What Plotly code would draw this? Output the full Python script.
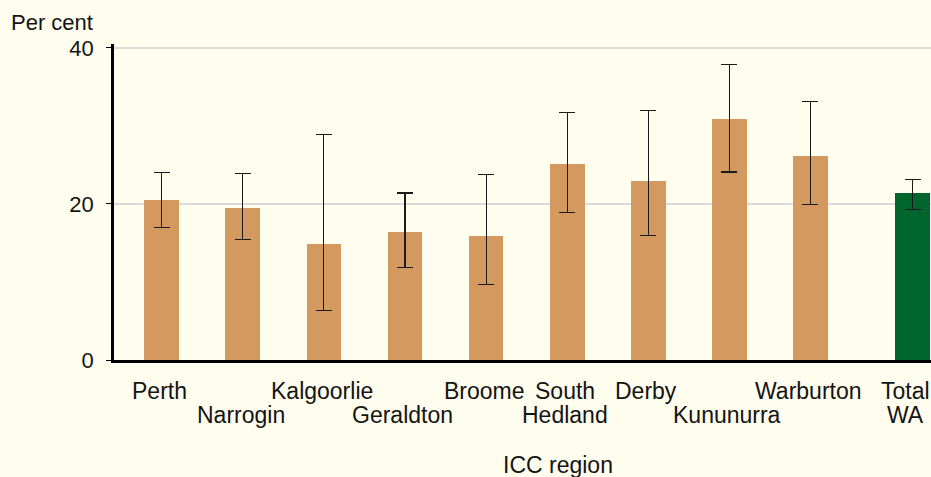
import plotly.graph_objects as go

regions = ["Perth", "Narrogin", "Kalgoorlie", "Geraldton", "Broome",
           "South Hedland", "Derby", "Kununurra", "Warburton", "Total WA"]
label_text = ["Perth", "Narrogin", "Kalgoorlie", "Geraldton", "Broome",
              "South<br>Hedland", "Derby", "Kununurra", "Warburton", "Total<br>WA"]
label_row = [1, 2, 1, 2, 1, 1, 1, 2, 1, 1]
values = [20.5, 19.5, 14.9, 16.4, 15.9, 25.1, 22.9, 30.9, 26.2, 21.4]
upper = [24.0, 23.9, 28.9, 21.4, 23.8, 31.7, 32.0, 37.9, 33.1, 23.1]
lower = [17.0, 15.4, 6.4, 11.8, 9.7, 18.9, 15.9, 24.1, 19.9, 19.3]
y_ticks = [0, 20, 40]

# layout-only: bar slots (Total WA set apart from the regions)
xpos = list(range(len(regions) - 1)) + [len(regions) - 1 + 0.26]
colors = ["#D4995F"] * (len(regions) - 1) + ["#00662E"]

FONT = "Liberation Sans"
FS = 23
TXT = "#141414"

fig = go.Figure()
fig.add_trace(go.Bar(
    x=xpos, y=values, width=0.428,
    marker=dict(color=colors, line=dict(width=0)),
    error_y=dict(type="data", symmetric=False,
                 array=[u - v for u, v in zip(upper, values)],
                 arrayminus=[v - l for v, l in zip(values, lower)],
                 color="#1a1a1a", thickness=1.1, width=8),
    hovertext=regions, showlegend=False,
))

W, H = 931, 477
L, R, T, B = 114, 0, 44, 117
pw = W - L - R

ann = []
row1_shift = -16
row_gap = 24
n = len(regions)
for i, (xp, txt, r0) in enumerate(zip(xpos, label_text, label_row)):
    for k, line in enumerate(txt.split("<br>")):
        row = r0 + k
        a = dict(x=xp, xref="x", y=0, yref="paper", yanchor="top",
                 xanchor="center", text=line, showarrow=False, xshift=-2,
                 yshift=row1_shift - (row - 1) * row_gap,
                 font=dict(family=FONT, size=FS, color=TXT))
        if i == n - 1:
            # keep the last label inside the right edge
            a.update(x=1, xref="paper", xshift=-26)
        ann.append(a)
ann.append(dict(x=(558 - L) / pw, xref="paper", y=0, yref="paper", yanchor="top",
                xanchor="center", text="ICC region", showarrow=False,
                yshift=row1_shift - 74,
                font=dict(family=FONT, size=FS, color=TXT)))
ann.append(dict(x=(9 - L) / pw, xref="paper", y=1, yref="paper", yanchor="bottom",
                xanchor="left", text="Per cent", showarrow=False, yshift=7,
                font=dict(family=FONT, size=FS - 1, color=TXT)))

fig.update_layout(
    width=W, height=H,
    margin=dict(l=L, r=R, t=T, b=B, pad=0),
    paper_bgcolor="#FFFDEE", plot_bgcolor="#FFFDEE",
    font=dict(family=FONT, size=FS, color=TXT),
    bargap=0,
    annotations=ann,
    xaxis=dict(range=[-0.588, 9.486], showticklabels=False, ticks="",
               showgrid=False, zeroline=False, showline=True,
               linecolor="#000000", linewidth=3),
    yaxis=dict(range=[0, 40.5], tickvals=y_ticks, ticktext=[str(v) for v in y_ticks],
               ticks="outside", ticklen=5, tickcolor="#000000", tickwidth=1,
               showgrid=True, gridcolor="#DADADA", gridwidth=2,
               zeroline=False, showline=True, linecolor="#000000", linewidth=2.5,
               ticklabelstandoff=8,
               tickfont=dict(family=FONT, size=FS - 1, color=TXT)),
)

fig.write_html("out.html",
               config={"displayModeBar": False},
               post_script="document.body.style.margin='0';document.body.style.background='#FFFDEE';")
